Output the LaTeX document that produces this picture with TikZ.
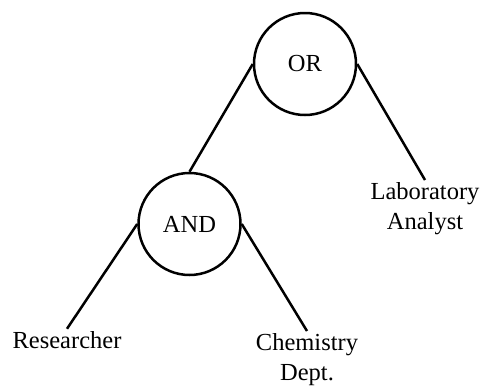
\documentclass[tikz,border=0pt]{standalone}
\usepackage{fontspec}
\setmainfont{Liberation Serif}
\begin{document}
\begin{tikzpicture}[x=1pt,y=-1pt,
  gate/.style={draw=black,circle,line width=2.5pt,minimum size=102pt,inner sep=0pt,font=\fontsize{24.5}{30}\selectfont},
  leaf/.style={inner sep=2pt,align=center,font=\fontsize{24.5}{30}\selectfont},
  edge/.style={draw=black,line width=2.5pt}]
\useasboundingbox (0,0) rectangle (480,386);
\node[gate] (or) at (305,64) {OR};
\node[gate] (and) at (189.5,224) {AND};
\node[leaf,anchor=north] (lab) at (425,180) {Laboratory\\Analyst};
\node[leaf,anchor=base] (res) at (67,348) {Researcher};
\node[leaf,anchor=north] (chem) at (307,331) {Chemistry\\Dept.};
\draw[edge] (or.west) -- (and.north);
\draw[edge] (or.east) -- (lab.north);
\draw[edge] (and.west) -- (res.north);
\draw[edge] (and.east) -- (chem.north);
\end{tikzpicture}
\end{document}
